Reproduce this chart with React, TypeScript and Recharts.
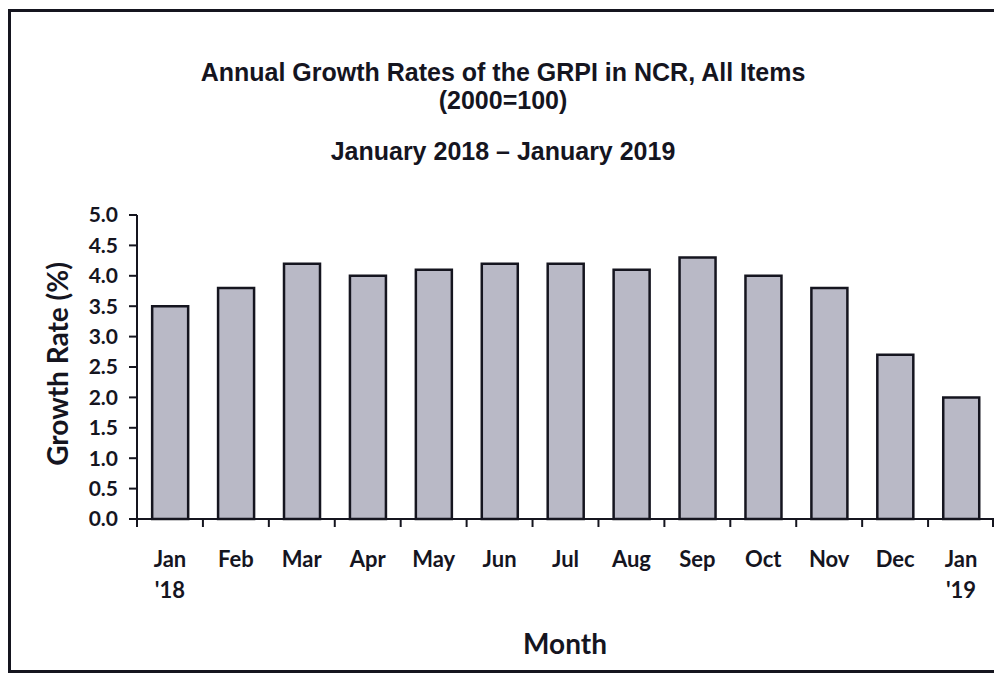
import React from 'react';
import { BarChart, Bar, XAxis, YAxis } from 'recharts';

const months = ['Jan', 'Feb', 'Mar', 'Apr', 'May', 'Jun', 'Jul', 'Aug', 'Sep', 'Oct', 'Nov', 'Dec', 'Jan'];
const years = ["'18", '', '', '', '', '', '', '', '', '', '', '', "'19"];
const growth = [3.5, 3.8, 4.2, 4.0, 4.1, 4.2, 4.2, 4.1, 4.3, 4.0, 3.8, 2.7, 2.0];
const yTicks = [0, 0.5, 1, 1.5, 2, 2.5, 3, 3.5, 4, 4.5, 5];

const titleLines = ['Annual Growth Rates of the GRPI in NCR, All Items', '(2000=100)', 'January 2018 \u2013 January 2019'];
const yLabel = 'Growth Rate (%)';
const xLabel = 'Month';

const data = months.map((m, i) => ({ key: i, month: m, year: years[i], value: growth[i] }));

const W = 994;
const H = 675;
const Y_AXIS_W = 137;
const PLOT_W = W - Y_AXIS_W;
const BAND = PLOT_W / months.length;
const INK = '#15151f';
const LABEL_FONT = 'Lato, "Open Sans", sans-serif';
const TITLE_FONT = '"Liberation Sans", Arial, sans-serif';

const XTick = (props: any) => {
  const { x, y, index } = props;
  const last = index === months.length - 1;
  return (
    <g>
      <line x1={x - BAND / 2} x2={x - BAND / 2} y1={y} y2={y + 8} stroke={INK} strokeWidth={2} />
      {last && <line x1={x + BAND / 2 - 1} x2={x + BAND / 2 - 1} y1={y} y2={y + 8} stroke={INK} strokeWidth={2} />}
      <text x={x} y={y + 48} textAnchor="middle" fontFamily={LABEL_FONT} fontWeight={700} fontSize={22} fill={INK}>
        {months[index]}
      </text>
      {years[index] && (
        <text x={x} y={y + 79} textAnchor="middle" fontFamily={LABEL_FONT} fontWeight={700} fontSize={22} fill={INK}>
          {years[index]}
        </text>
      )}
    </g>
  );
};

export default function App() {
  return (
    <div style={{ position: 'absolute', left: 0, top: 0, width: W, height: H, overflow: 'hidden', background: '#fff' }}>
      <div
        style={{
          position: 'absolute',
          left: 8,
          top: 9,
          width: W + 20,
          height: 658,
          borderLeft: `3px solid ${INK}`,
          borderTop: `3px solid ${INK}`,
          borderBottom: `3px solid ${INK}`,
        }}
      />
      <div style={{ position: 'absolute', left: 0, top: 0 }}>
        <BarChart width={W} height={H} data={data} margin={{ top: 215, right: 0, left: 0, bottom: 0 }} barCategoryGap="23%">
          <XAxis
            dataKey="key"
            height={156}
            interval={0}
            tickSize={0}
            tickMargin={0}
            tickLine={false}
            axisLine={{ stroke: INK, strokeWidth: 2 }}
            tick={<XTick />}
          />
          <YAxis
            width={Y_AXIS_W}
            domain={[0, 5]}
            ticks={yTicks}
            interval={0}
            tickSize={8}
            tickMargin={11}
            tickFormatter={(v: number) => v.toFixed(1)}
            tickLine={{ stroke: INK, strokeWidth: 2 }}
            axisLine={{ stroke: INK, strokeWidth: 2 }}
            tick={{ fontFamily: LABEL_FONT, fontWeight: 700, fontSize: 21, fill: INK }}
          />
          <Bar dataKey="value" fill="#b9b9c6" stroke={INK} strokeWidth={2.5} isAnimationActive={false} />
        </BarChart>
      </div>
      <svg width={W} height={H} style={{ position: 'absolute', left: 0, top: 0, pointerEvents: 'none' }}>
        <text x={503} y={81} textAnchor="middle" fontFamily={TITLE_FONT} fontWeight={700} fontSize={25} fill={INK}>
          {titleLines[0]}
        </text>
        <text x={503} y={109} textAnchor="middle" fontFamily={TITLE_FONT} fontWeight={700} fontSize={25} fill={INK}>
          {titleLines[1]}
        </text>
        <text x={503} y={160} textAnchor="middle" fontFamily={TITLE_FONT} fontWeight={700} fontSize={25} fill={INK}>
          {titleLines[2]}
        </text>
        <text
          x={0}
          y={0}
          transform="translate(68 364) rotate(-90)"
          textAnchor="middle"
          fontFamily={LABEL_FONT}
          fontWeight={700}
          fontSize={28}
          fill={INK}
        >
          {yLabel}
        </text>
        <text x={565} y={654} textAnchor="middle" fontFamily={LABEL_FONT} fontWeight={700} fontSize={28} fill={INK}>
          {xLabel}
        </text>
      </svg>
    </div>
  );
}
